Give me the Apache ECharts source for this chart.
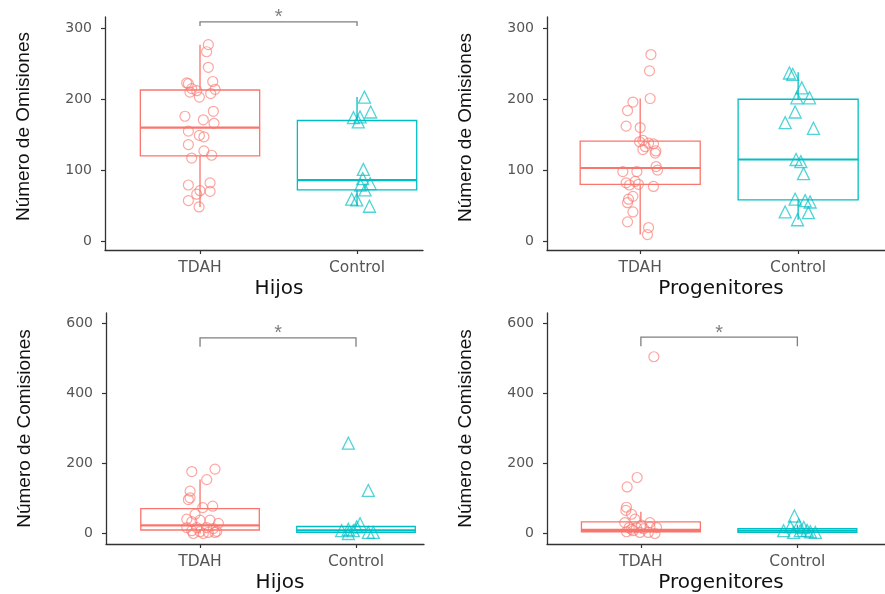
<!DOCTYPE html>
<html><head><meta charset="utf-8">
<script src="https://cdn.jsdelivr.net/npm/echarts@6/dist/echarts.min.js"></script>
<style>html,body{margin:0;padding:0;background:#fff}#c{width:885px;height:594px}</style>
</head><body><div id="c"></div><script>
// ---------- data ----------
const categories = ['TDAH', 'Control'];
const xTitles = ['Hijos', 'Progenitores', 'Hijos', 'Progenitores'];
const yTitles = ['Número de Omisiones', 'Número de Omisiones', 'Número de Comisiones', 'Número de Comisiones'];
const yTicksOmis = [0, 100, 200, 300];
const yTicksComis = [0, 200, 400, 600];

// Panel 1: Omisiones - Hijos
const omiHijosTDAH = [277,267,245,225,223,222,215,212,214,210,208,203,183,176,171,166,155,149,147,136,127,121,117,79,82,71,70,66,57,48];
const omiHijosTDAHJit = [0.053,0.042,0.053,0.081,-0.085,-0.074,-0.053,-0.021,0.096,-0.064,0.068,-0.004,0.085,-0.096,0.021,0.089,-0.074,-0.004,0.025,-0.074,0.025,0.074,-0.053,-0.074,0.064,0,0.064,-0.021,-0.074,-0.006];
const omiHijosCtrl = [203,182,174,175,168,101,88,81,79,72,59,58,49];
const omiHijosCtrlJit = [0.047,0.087,-0.023,0.019,0.008,0.04,0.036,0.083,0.023,0.051,-0.034,-0.002,0.079];
const omiHijosBoxTDAH = [48, 120, 160, 213, 277];
const omiHijosBoxCtrl = [49, 72, 86, 170, 203];

// Panel 2: Omisiones - Progenitores
const omiProgTDAH = [263,240,201,196,184,162,160,142,140,138,137,133,129,127,124,105,100,98,98,82,84,79,80,77,63,59,54,41,27,19,9];
const omiProgTDAHJit = [0.068,0.059,0.063,-0.046,-0.08,-0.089,0,0.017,-0.004,0.053,0.084,0.032,0.017,0.099,0.095,0.101,0.11,-0.11,-0.021,-0.089,-0.032,-0.068,-0.011,0.084,-0.046,-0.074,-0.08,-0.046,-0.08,0.053,0.046];
const omiProgCtrl = [237,235,216,202,202,182,167,159,115,112,95,59,57,55,41,40,30];
const omiProgCtrlJit = [-0.055,-0.034,0.023,-0.008,0.072,-0.019,-0.082,0.097,-0.013,0.017,0.034,-0.019,0.044,0.076,-0.082,0.065,-0.004];
const omiProgBoxTDAH = [9, 80, 103, 141, 201];
const omiProgBoxCtrl = [30, 58, 115, 200, 238];

// Panel 3: Comisiones - Hijos
const comHijosTDAH = [177,184,154,121,97,102,74,78,55,41,38,38,34,29,17,17,17,14,8,5,3,6,0,0,3];
const comHijosTDAHJit = [-0.053,0.096,0.043,-0.064,-0.075,-0.064,0.017,0.081,-0.032,-0.085,0,0.064,-0.053,0.118,-0.085,-0.021,0.043,0.085,-0.053,0,0.053,0.107,-0.043,0.021,0.096];
const comHijosCtrl = [258,123,28,19,12,8,3,3,0,8];
const comHijosCtrlJit = [-0.049,0.079,0.026,0.004,-0.049,-0.092,0.079,0.111,-0.049,-0.017];
const comHijosBoxTDAH = [0, 10, 23, 71, 154];
const comHijosBoxCtrl = [0, 3, 9, 20, 28];

// Panel 4: Comisiones - Progenitores
const comProgTDAH = [505,160,133,75,66,55,41,31,31,24,19,17,17,14,17,5,3,3,0,8,12];
const comProgTDAHJit = [0.083,-0.024,-0.088,-0.092,-0.096,-0.06,-0.038,-0.103,0.058,0.004,0.058,-0.075,-0.028,0.019,0.1,-0.092,-0.006,0.047,0.09,-0.049,-0.06];
const comProgCtrl = [50,25,19,17,8,8,5,3,3,9];
const comProgCtrlJit = [-0.019,0.009,-0.045,0.041,-0.088,0.019,0.083,0.115,-0.024,0.062];
const comProgBoxTDAH = [0, 5, 10.5, 33, 62];
const comProgBoxCtrl = [0, 3, 8, 14, 25];

// significance brackets (value on y axis), null = none
const sigBracketY = [309, null, 559, 561];
const sigLabel = '*';

// ---------- layout / style ----------
const colTDAH = '#F8766D', colCtrl = '#00BFC4';
const FONT = 'Liberation Sans, Arial, sans-serif';
const FONT_H = 'DejaVu Sans, sans-serif';
const layouts = [
  {grid: {left: 105, top: 17, width: 318, height: 233}, x: [0.395, 2.42], y: [-12.7, 316], ticks: yTicksOmis, drop: 4, nameShift: 30, yShift: 14},
  {grid: {left: 547, top: 17, width: 338, height: 233}, x: [0.41, 2.55], y: [-12.7, 316], ticks: yTicksOmis, drop: 4, nameShift: 10, yShift: 12},
  {grid: {left: 106, top: 313, width: 318, height: 234}, x: [0.397, 2.436], y: [-30, 630], ticks: yTicksComis, drop: 9, nameShift: 30, yShift: 0},
  {grid: {left: 547, top: 313, width: 338, height: 234}, x: [0.4, 2.56], y: [-30, 630], ticks: yTicksComis, drop: 9, nameShift: 10, yShift: 0}
];
const panels = [
  {t: omiHijosTDAH, tj: omiHijosTDAHJit, c: omiHijosCtrl, cj: omiHijosCtrlJit, bt: omiHijosBoxTDAH, bc: omiHijosBoxCtrl},
  {t: omiProgTDAH, tj: omiProgTDAHJit, c: omiProgCtrl, cj: omiProgCtrlJit, bt: omiProgBoxTDAH, bc: omiProgBoxCtrl},
  {t: comHijosTDAH, tj: comHijosTDAHJit, c: comHijosCtrl, cj: comHijosCtrlJit, bt: comHijosBoxTDAH, bc: comHijosBoxCtrl},
  {t: comProgTDAH, tj: comProgTDAHJit, c: comProgCtrl, cj: comProgCtrlJit, bt: comProgBoxTDAH, bc: comProgBoxCtrl}
];
const BOX_W = 0.76;

function boxRenderer(color) {
  return function (params, api) {
    const x = api.value(0);
    const pMin = api.coord([x, api.value(1)]);
    const pQ1 = api.coord([x - BOX_W / 2, api.value(2)]);
    const pMed = api.coord([x - BOX_W / 2, api.value(3)]);
    const pQ3 = api.coord([x + BOX_W / 2, api.value(4)]);
    const pMax = api.coord([x, api.value(5)]);
    const st = {stroke: color, lineWidth: 1.3, fill: null};
    return {type: 'group', children: [
      {type: 'line', shape: {x1: pMax[0], y1: pMax[1], x2: pMax[0], y2: pQ3[1]}, style: st},
      {type: 'line', shape: {x1: pMin[0], y1: pMin[1], x2: pMin[0], y2: pQ1[1]}, style: st},
      {type: 'rect', shape: {x: pQ1[0], y: pQ3[1], width: pQ3[0] - pQ1[0], height: pQ1[1] - pQ3[1]}, style: st},
      {type: 'line', shape: {x1: pQ1[0], y1: pMed[1], x2: pQ3[0], y2: pMed[1]}, style: {stroke: color, lineWidth: 2.2}}
    ]};
  };
}

function bracketRenderer(drop) {
  return function (params, api) {
    const a = api.coord([api.value(0), api.value(2)]);
    const b = api.coord([api.value(1), api.value(2)]);
    const st = {stroke: '#7f7f7f', lineWidth: 1.3, fill: null};
    return {type: 'group', children: [
      {type: 'polyline', shape: {points: [[a[0], a[1] + drop], a, b, [b[0], b[1] + drop]]}, style: st},
      {type: 'text', style: {text: sigLabel, x: (a[0] + b[0]) / 2, y: a[1] + 6, align: 'center', verticalAlign: 'bottom', fill: '#7f7f7f', font: '20px ' + FONT}}
    ]};
  };
}

const grid = [], xAxis = [], yAxis = [], series = [];
layouts.forEach((L, i) => {
  grid.push(L.grid);
  xAxis.push({
    type: 'value', gridIndex: i, min: L.x[0], max: L.x[1],
    axisLine: {show: true, onZero: false, lineStyle: {color: '#333', width: 1.3}},
    axisTick: {show: true, customValues: [1, 2], length: 4, lineStyle: {color: '#333', width: 1.2}},
    axisLabel: {customValues: [1, 2], formatter: v => categories[Math.round(v) - 1], color: '#555', fontSize: 15.5, margin: 10, fontFamily: FONT_H},
    splitLine: {show: false},
    name: xTitles[i], nameLocation: 'middle', nameGap: 29,
    nameTextStyle: {fontSize: 20, color: '#111', fontFamily: FONT_H, padding: [0, 0, 0, L.nameShift]}
  });
  yAxis.push({
    type: 'value', gridIndex: i, min: L.y[0], max: L.y[1],
    axisLine: {show: true, onZero: false, lineStyle: {color: '#333', width: 1.3}},
    axisTick: {show: true, customValues: L.ticks, length: 4, lineStyle: {color: '#333', width: 1.2}},
    axisLabel: {customValues: L.ticks, color: '#555', fontSize: 14, margin: 13, fontFamily: FONT_H},
    splitLine: {show: false},
    name: yTitles[i], nameLocation: 'middle', nameGap: 72,
    nameTextStyle: {fontSize: 19, color: '#111', fontFamily: FONT, padding: [0, 0, 0, L.yShift]}
  });
  const P = panels[i];
  series.push({type: 'custom', xAxisIndex: i, yAxisIndex: i, renderItem: boxRenderer(colTDAH), data: [[1].concat(P.bt)], silent: true, z: 2});
  series.push({type: 'custom', xAxisIndex: i, yAxisIndex: i, renderItem: boxRenderer(colCtrl), data: [[2].concat(P.bc)], silent: true, z: 2});
  series.push({type: 'scatter', xAxisIndex: i, yAxisIndex: i, symbol: 'circle', symbolSize: 10,
    itemStyle: {color: 'rgba(255,255,255,0)', borderColor: 'rgba(248,118,109,0.8)', borderWidth: 1.2},
    data: P.t.map((v, k) => [1 + P.tj[k], v]), silent: true, z: 3});
  series.push({type: 'scatter', xAxisIndex: i, yAxisIndex: i, symbol: 'triangle', symbolSize: 12,
    itemStyle: {color: 'rgba(255,255,255,0)', borderColor: 'rgba(0,191,196,0.85)', borderWidth: 1.3},
    data: P.c.map((v, k) => [2 + P.cj[k], v]), silent: true, z: 3});
  if (sigBracketY[i] !== null) {
    series.push({type: 'custom', xAxisIndex: i, yAxisIndex: i, renderItem: bracketRenderer(L.drop), clip: false,
      data: [[1, 2, sigBracketY[i]]], silent: true, z: 4});
  }
});

const chart = echarts.init(document.getElementById('c'), null, {renderer: 'canvas'});
chart.setOption({animation: false, backgroundColor: '#fff', textStyle: {fontFamily: FONT}, grid, xAxis, yAxis, series});
</script></body></html>
